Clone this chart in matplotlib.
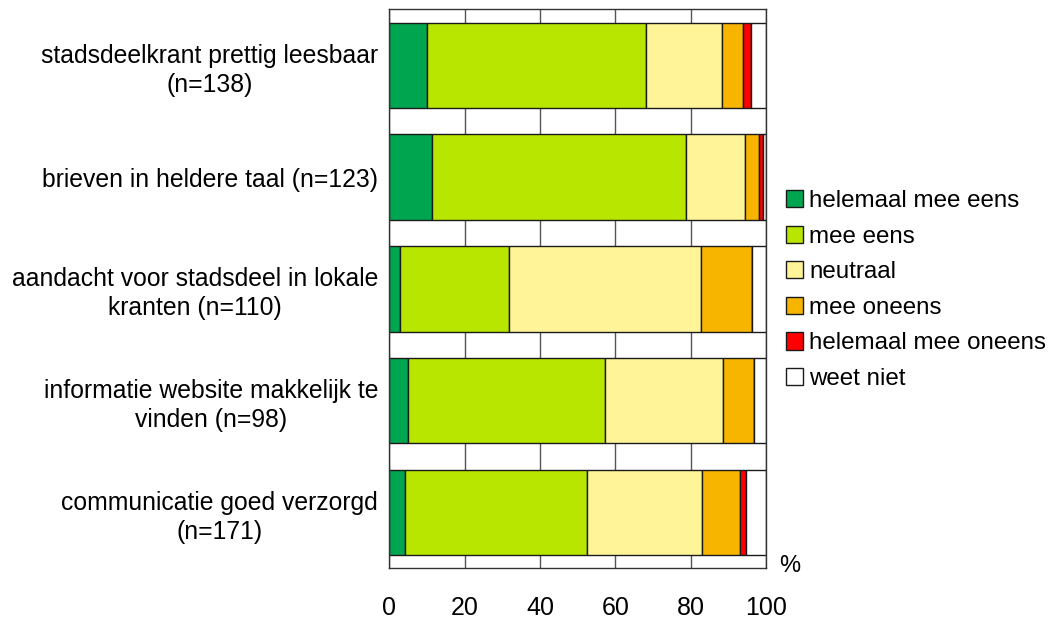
import numpy as np
import matplotlib
matplotlib.use("Agg")
import matplotlib.pyplot as plt

plt.rcParams["font.family"] = ["Liberation Sans", "DejaVu Sans"]

categories = [
    "stadsdeelkrant prettig leesbaar\n(n=138)",
    "brieven in heldere taal (n=123)",
    "aandacht voor stadsdeel in lokale\nkranten (n=110)",
    "informatie website makkelijk te\nvinden (n=98)",
    "communicatie goed verzorgd\n(n=171)",
]
series = ["helemaal mee eens", "mee eens", "neutraal", "mee oneens",
          "helemaal mee oneens", "weet niet"]
helemaal_eens = [10.1, 11.2, 2.8, 5.0, 4.1]
eens = [58.0, 67.5, 29.1, 52.2, 48.4]
neutraal = [20.3, 15.6, 50.8, 31.5, 30.5]
oneens = [5.6, 3.9, 13.5, 8.0, 10.0]
helemaal_oneens = [2.1, 0.9, 0.0, 0.0, 1.6]
weet_niet = [3.9, 0.9, 3.8, 3.3, 5.4]
values = [helemaal_eens, eens, neutraal, oneens, helemaal_oneens, weet_niet]
colors = ["#00A54F", "#B8E600", "#FFF598", "#F7B500", "#FF0000", "#FFFFFF"]
xticks = [0, 20, 40, 60, 80, 100]

fig = plt.figure(figsize=(10.62, 6.19), dpi=100)
ax = fig.add_axes([0.3666, 0.0819, 0.3547, 0.9028])

y = np.arange(len(categories))
left = np.zeros(len(categories))
for name, vals, col in zip(series, values, colors):
    vals = np.array(vals)
    ax.barh(y, vals, left=left, height=0.766, color=col, edgecolor="#1a1a1a",
            linewidth=1.0, label=name, zorder=2)
    left += vals

ax.set_xlim(0, 100)
ax.set_ylim(len(categories) - 0.5, -0.5)
ax.set_xticks(xticks)
ax.set_xticklabels([str(t) for t in xticks], fontsize=18)
ax.set_yticks(y)
ax.set_yticklabels(categories, fontsize=17.8, multialignment="center",
                   linespacing=1.25)
ax.tick_params(axis="x", length=0, pad=20)
ax.tick_params(axis="y", length=0, pad=8)
ax.xaxis.grid(True, color="#555555", lw=1.0, zorder=0)
ax.set_axisbelow(True)
for s in ax.spines.values():
    s.set_color("#333333")
    s.set_linewidth(1.0)

ax.text(1.035, 0.005, "%", transform=ax.transAxes, fontsize=17, ha="left", va="center")

leg = ax.legend(loc="center left", bbox_to_anchor=(1.053, 0.498), frameon=False,
                fontsize=17.4, handlelength=0.72, handleheight=0.72,
                handletextpad=0.25, labelspacing=0.56, borderaxespad=0,
                borderpad=0)

fig.savefig("out.png", dpi=100)
